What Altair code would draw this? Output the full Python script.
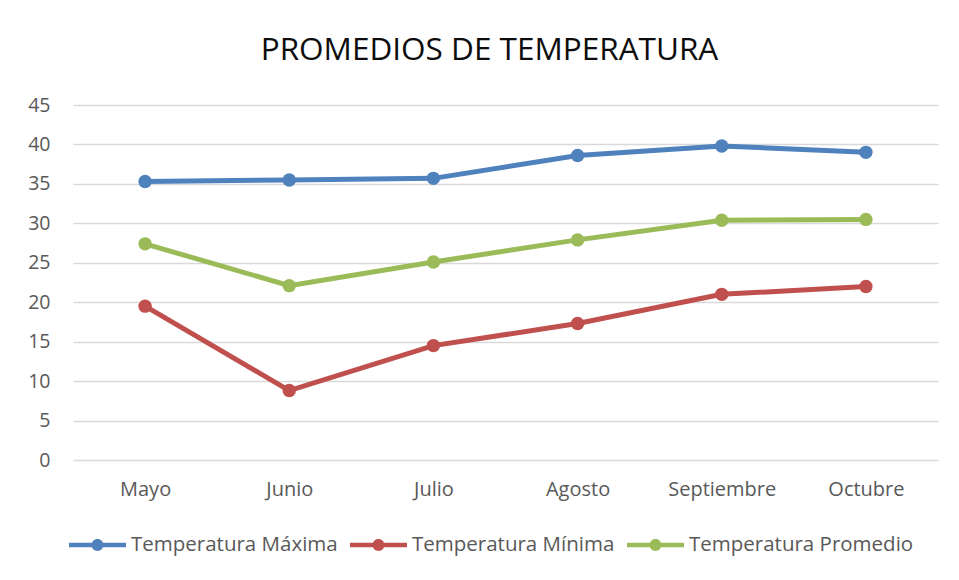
import altair as alt
import pandas as pd

months = ["Mayo", "Junio", "Julio", "Agosto", "Septiembre", "Octubre"]
series_names = ["Temperatura Máxima", "Temperatura Mínima", "Temperatura Promedio"]
t_max = [35.3, 35.5, 35.7, 38.6, 39.8, 39.0]
t_min = [19.5, 8.8, 14.5, 17.3, 21.0, 22.0]
t_avg = [27.4, 22.1, 25.1, 27.9, 30.4, 30.5]
colors = ["#4F81BD", "#C0504D", "#9BBB59"]
y_ticks = [0, 5, 10, 15, 20, 25, 30, 35, 40, 45]

rows = []
for name, vals in zip(series_names, [t_max, t_min, t_avg]):
    for m, v in zip(months, vals):
        rows.append({"Mes": m, "Serie": name, "Valor": v})
df = pd.DataFrame(rows)

FONT = "Open Sans"
legend_path = ("M-1,-0.08 L1,-0.08 L1,0.08 L-1,0.08 Z "
               "M-0.21,0 A0.21,0.21 0 1,1 0.21,0 A0.21,0.21 0 1,1 -0.21,0 Z")

x_enc = alt.X("Mes:N", sort=months, title=None,
              axis=alt.Axis(labelAngle=0, ticks=False, domain=False, grid=False,
                            labelPadding=19, labelFontSize=20, labelFont=FONT,
                            labelColor="#595959"))
y_enc = alt.Y("Valor:Q", title=None,
              scale=alt.Scale(domain=[0, 45], nice=False),
              axis=alt.Axis(values=y_ticks, ticks=False, domain=False, grid=True,
                            gridColor="#D9D9D9", gridWidth=1.3,
                            labelPadding=23, labelFontSize=19.5, labelFont=FONT,
                            labelColor="#595959"))
color_enc = alt.Color("Serie:N", sort=series_names,
                      scale=alt.Scale(domain=series_names, range=colors),
                      legend=alt.Legend(title=None, orient="none", direction="horizontal",
                                        legendX=-4, legendY=411.5,
                                        symbolType=legend_path, symbolSize=3249,
                                        symbolStrokeWidth=0, labelOffset=5,
                                        columnPadding=12, labelFontSize=20.5,
                                        labelFont=FONT, labelColor="#595959",
                                        labelLimit=400))

base = alt.Chart(df)
lines = base.mark_line(strokeWidth=5).encode(x=x_enc, y=y_enc, color=color_enc)
points = base.mark_point(filled=True, size=180, opacity=1).encode(x=x_enc, y=y_enc, color=color_enc)

chart = alt.layer(lines, points).properties(
    width=865, height=355,
    title=alt.TitleParams("PROMEDIOS DE TEMPERATURA", font=FONT, fontSize=31.5,
                          fontWeight="normal", color="#0D0D0D", anchor="middle",
                          dx=-16, baseline="alphabetic", offset=4),
    autosize=alt.AutoSizeParams(type="none"),
    padding={"left": 65, "top": 97, "right": 13, "bottom": 100},
).configure_view(stroke=None)

chart.save("out.html", embed_options={"renderer": "svg", "actions": False})
